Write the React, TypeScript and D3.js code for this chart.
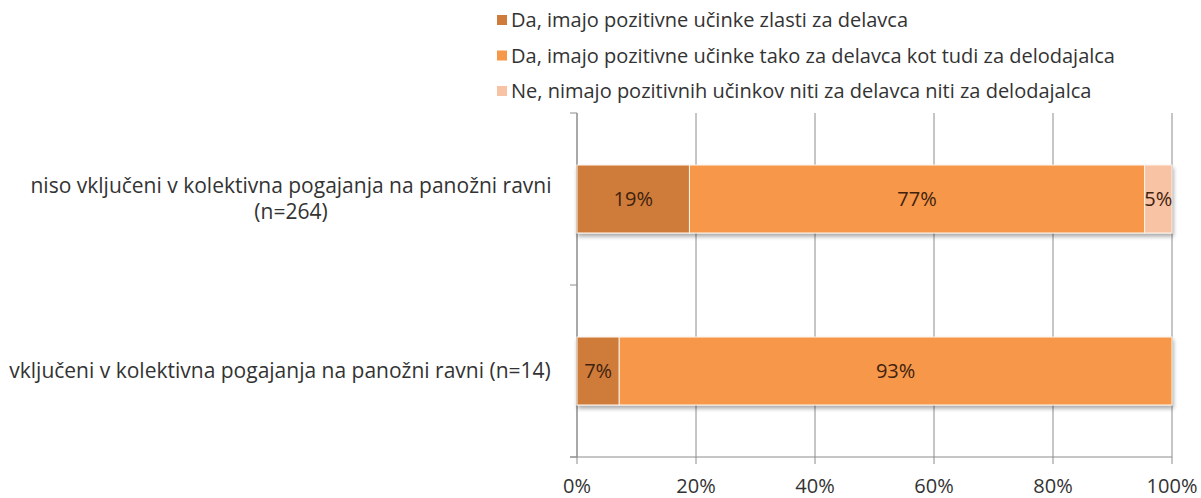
import * as d3 from "d3";

const categories = [
  ["niso vključeni v kolektivna pogajanja na panožni ravni", "(n=264)"],
  ["vključeni v kolektivna pogajanja na panožni ravni (n=14)"],
];
const seriesNames = [
  "Da, imajo pozitivne učinke zlasti za delavca",
  "Da, imajo pozitivne učinke tako za delavca kot tudi za delodajalca",
  "Ne, nimajo pozitivnih učinkov niti za delavca niti za delodajalca",
];
const seriesColors = ["#cf7b3b", "#f6974a", "#f8c2a4"];
// values per category, one per series (percent)
const valuesSeries1 = [18.9, 7.1];
const valuesSeries2 = [76.5, 92.9];
const valuesSeries3 = [4.6, 0];
const xTicks = [0, 20, 40, 60, 80, 100];

const W = 1201;
const H = 498;
const margin = { top: 113, right: 29, bottom: 41, left: 577 };
const font = "'Open Sans', sans-serif";
const textColor = "#333";
const gridColor = "#8c8c8c";

export default function App() {
  const innerW = W - margin.left - margin.right;
  const innerH = H - margin.top - margin.bottom;

  const x = d3.scaleLinear().domain([0, 100]).range([0, innerW]);
  const y = d3
    .scaleBand<number>()
    .domain(categories.map((_, i) => i))
    .range([0, innerH])
    .paddingInner(0.605)
    .paddingOuter(0.3025);

  const rows = categories.map((_, i) => ({
    i,
    v1: valuesSeries1[i],
    v2: valuesSeries2[i],
    v3: valuesSeries3[i],
  }));
  const stacked = d3
    .stack<(typeof rows)[number]>()
    .keys(["v1", "v2", "v3"])(rows);

  const slot = innerH / categories.length;

  return (
    <svg
      width={W}
      height={H}
      style={{ position: "absolute", left: 0, top: 0, background: "#fff" }}
      fontFamily={font}
    >
      <defs>
        <filter id="sh" x="-5%" y="-20%" width="110%" height="150%">
          <feGaussianBlur in="SourceAlpha" stdDeviation="2" />
          <feOffset dx="1" dy="3" result="b" />
          <feComponentTransfer>
            <feFuncA type="linear" slope="0.35" />
          </feComponentTransfer>
          <feMerge>
            <feMergeNode />
            <feMergeNode in="SourceGraphic" />
          </feMerge>
        </filter>
      </defs>

      {/* Legend */}
      <g transform="translate(497,20)">
        {seriesNames.map((name, i) => (
          <g key={i} transform={`translate(0,${i * 35.5})`}>
            <rect x={0} y={-5} width={10} height={10} fill={seriesColors[i]} />
            <text x={14} dy="0.35em" fontSize={20} fill={textColor}>
              {name}
            </text>
          </g>
        ))}
      </g>

      <g transform={`translate(${margin.left},${margin.top})`}>
        {/* Grid lines */}
        {xTicks.map((t) => (
          <line
            key={t}
            x1={x(t)}
            x2={x(t)}
            y1={0}
            y2={innerH + 7}
            stroke={gridColor}
            strokeWidth={1}
          />
        ))}
        {/* Category axis */}
        <line x1={0} x2={0} y1={0} y2={innerH} stroke={gridColor} />
        {d3.range(categories.length + 1).map((k) => (
          <line
            key={k}
            x1={-7}
            x2={0}
            y1={k * slot}
            y2={k * slot}
            stroke={gridColor}
          />
        ))}
        <line x1={-7} x2={innerW} y1={innerH} y2={innerH} stroke={gridColor} />

        {/* Bars */}
        {categories.map((_, ci) => (
          <g key={ci} filter="url(#sh)">
            {stacked.map((s, si) => {
              const d = s[ci];
              if (d[1] - d[0] <= 0) return null;
              return (
                <rect
                  key={si}
                  x={x(d[0])}
                  y={y(ci)}
                  width={x(d[1]) - x(d[0])}
                  height={y.bandwidth()}
                  fill={seriesColors[si]}
                  stroke="#fdf3e8"
                  strokeWidth={1}
                />
              );
            })}
          </g>
        ))}
        {/* Value labels */}
        {categories.map((_, ci) =>
          stacked.map((s, si) => {
            const d = s[ci];
            const v = d[1] - d[0];
            if (v <= 0) return null;
            return (
              <text
                key={`${ci}-${si}`}
                x={x((d[0] + d[1]) / 2)}
                y={(y(ci) ?? 0) + y.bandwidth() / 2}
                dy="0.35em"
                textAnchor="middle"
                fontSize={20}
                fill="#40220e"
              >
                {Math.round(v)}%
              </text>
            );
          })
        )}

        {/* Category labels */}
        {categories.map((lines, ci) => {
          const cy = (y(ci) ?? 0) + y.bandwidth() / 2;
          const lh = 26;
          return (
            <text
              key={ci}
              fontSize={21}
              fill={textColor}
              textAnchor="middle"
            >
              {lines.map((l, li) => (
                <tspan
                  key={li}
                  x={lines.length > 1 ? -286 : -297}
                  y={cy + (li - (lines.length - 1) / 2) * lh}
                  dy="0.35em"
                >
                  {l}
                </tspan>
              ))}
            </text>
          );
        })}

        {/* X tick labels */}
        {xTicks.map((t) => (
          <text
            key={t}
            x={x(t)}
            y={innerH + 36}
            textAnchor="middle"
            fontSize={20}
            fill={textColor}
          >
            {t}%
          </text>
        ))}
      </g>
    </svg>
  );
}
